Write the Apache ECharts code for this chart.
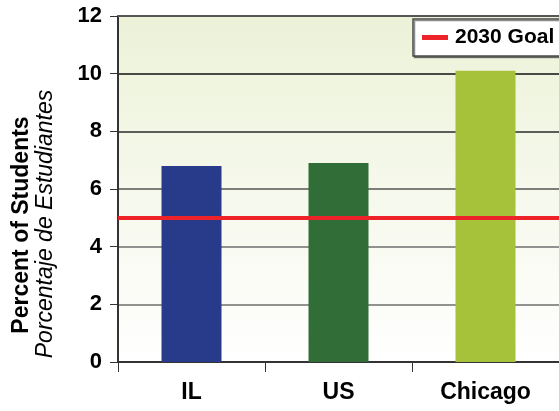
<!DOCTYPE html>
<html>
<head>
<meta charset="utf-8">
<script src="https://cdn.jsdelivr.net/npm/echarts@6/dist/echarts.min.js"></script>
<style>
  html, body { margin: 0; padding: 0; background: #fff; }
  #chart { width: 559px; height: 411px; }
</style>
</head>
<body>
<div id="chart"></div>
<script>
// Share of students by area, with the 2030 goal as a reference line
var categories = ['IL', 'US', 'Chicago'];
var values = [6.8, 6.9, 10.1];
var barColors = ['#283A8A', '#316E37', '#A6C23A'];
var goalValue = 5;
var goalName = '2030 Goal';
var yTicks = { min: 0, max: 12, interval: 2 };

var FONT = '"Liberation Sans", Arial, Helvetica, sans-serif';

var chart = echarts.init(document.getElementById('chart'), null, { renderer: 'canvas' });

chart.setOption({
  animation: false,
  grid: {
    left: 118, top: 16, right: -3, bottom: 49,
    show: true,
    borderWidth: 0,
    backgroundColor: new echarts.graphic.LinearGradient(0, 0, 0, 1, [
      { offset: 0, color: '#ECF2D8' },
      { offset: 1, color: '#FFFFFF' }
    ])
  },
  legend: {
    data: [goalName],
    left: 413, top: 19,
    padding: [8, 12, 8, 9],
    itemWidth: 26, itemHeight: 5, itemGap: 6,
    icon: 'rect',
    backgroundColor: '#FFFFFF',
    borderColor: '#4A4A4A', borderWidth: 1.5,
    shadowColor: 'rgba(0,0,0,0.45)', shadowOffsetX: 1.5, shadowOffsetY: 1.5, shadowBlur: 0,
    textStyle: { fontFamily: FONT, fontWeight: 'bold', fontSize: 21, color: '#000', padding: [0, 0, 0, 2] }
  },
  xAxis: {
    type: 'category',
    data: categories,
    boundaryGap: true,
    axisLine: { show: true, lineStyle: { color: '#333', width: 2 } },
    axisTick: { show: true, length: 10, lineStyle: { color: '#333', width: 1 } },
    axisLabel: { margin: 19, fontFamily: FONT, fontWeight: 'bold', fontSize: 23, color: '#000' }
  },
  yAxis: {
    type: 'value',
    min: yTicks.min, max: yTicks.max, interval: yTicks.interval,
    axisLine: { show: true, lineStyle: { color: '#333', width: 2 } },
    axisTick: { show: true, length: 8, lineStyle: { color: '#333', width: 1 } },
    axisLabel: { margin: 16, fontFamily: FONT, fontWeight: 'bold', fontSize: 22, color: '#000' },
    splitLine: {
      show: true,
      lineStyle: { width: 1.5, color: ['#333', '#6E6E6E', '#6E6E6E', '#555', '#2A2A2A', '#111', '#444'] }
    }
  },
  series: [
    {
      type: 'bar',
      name: 'Students',
      barWidth: 60,
      data: values.map(function (v, i) {
        return { value: v, itemStyle: { color: barColors[i] } };
      }),
      z: 2
    },
    {
      type: 'line',
      name: goalName,
      data: [],
      itemStyle: { color: '#EE2229' },
      lineStyle: { color: '#EE2229', width: 4 },
      markLine: {
        silent: true,
        symbol: ['none', 'none'],
        label: { show: false },
        lineStyle: { color: '#EE2229', width: 4, type: 'solid' },
        data: [{ yAxis: goalValue }]
      },
      z: 3
    }
  ],
  graphic: [
    {
      type: 'text',
      x: 22, y: 225, rotation: Math.PI / 2,
      style: {
        text: 'Percent of Students',
        font: 'bold 23px ' + FONT,
        fill: '#000',
        textAlign: 'center', textVerticalAlign: 'middle'
      }
    },
    {
      type: 'text',
      x: 46, y: 224, rotation: Math.PI / 2,
      style: {
        text: 'Porcentaje de Estudiantes',
        font: 'italic 23px ' + FONT,
        fill: '#000',
        textAlign: 'center', textVerticalAlign: 'middle'
      }
    },
    {
      // dark frame line along the top of the plot area
      type: 'line',
      shape: { x1: 118, y1: 16, x2: 562, y2: 16 },
      style: { stroke: '#555', lineWidth: 2 },
      z: 10
    }
  ]
});
</script>
</body>
</html>
